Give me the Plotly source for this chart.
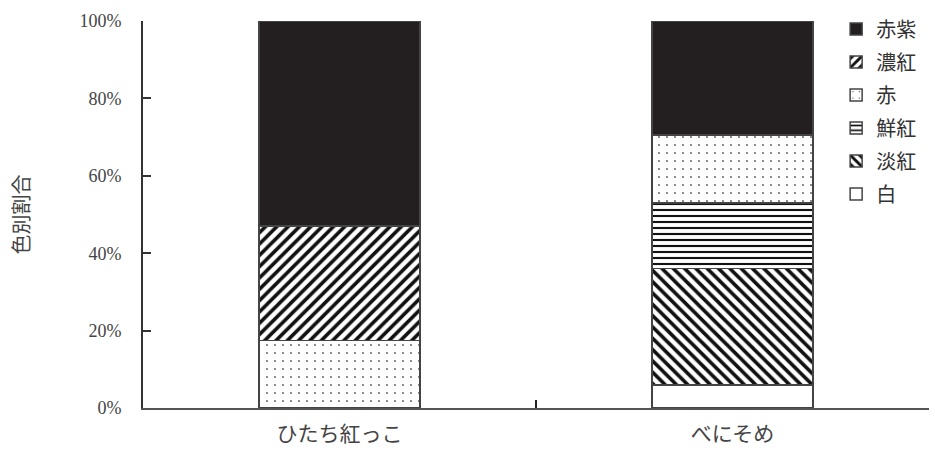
import plotly.graph_objects as go

# Cultivars on the x axis
cultivars = ["ひたち紅っこ", "べにそめ"]

# Share of each flower colour class (%), stacked from bottom to top
color_classes = ["白", "淡紅", "鮮紅", "赤", "濃紅", "赤紫"]
share_shiro = [None, 6.0]
share_tanko = [None, 30.0]
share_senko = [None, 17.0]
share_aka = [17.5, 17.5]
share_noko = [29.5, None]
share_akamurasaki = [53.0, 29.5]

shares = [share_shiro, share_tanko, share_senko, share_aka, share_noko, share_akamurasaki]

INK = "#231f20"
fill_styles = {
    "白": dict(color="white", pattern=dict(shape="")),
    "淡紅": dict(color="white", pattern=dict(shape="\\", fgcolor="#111111", bgcolor="white",
                                           fgopacity=1, size=8, solidity=0.45)),
    "鮮紅": dict(color="white", pattern=dict(shape="-", fgcolor="#111111", bgcolor="white",
                                           fgopacity=1, size=6, solidity=0.35)),
    "赤": dict(color="white", pattern=dict(shape=".", fgcolor="#555555", bgcolor="white",
                                          fgopacity=1, size=8, solidity=0.04)),
    "濃紅": dict(color="white", pattern=dict(shape="/", fgcolor="#111111", bgcolor="white",
                                           fgopacity=1, size=8, solidity=0.45)),
    "赤紫": dict(color=INK, pattern=dict(shape="")),
}

fig = go.Figure()
n = len(color_classes)
for i, (name, vals) in enumerate(zip(color_classes, shares)):
    st = fill_styles[name]
    fig.add_trace(go.Bar(
        x=cultivars, y=vals, name=name, width=0.41, legendgroup=name,
        legendrank=n - i,
        marker=dict(color=st["color"], pattern=st["pattern"],
                    line=dict(color="#444444", width=1.5)),
    ))

fig.update_layout(
    width=935, height=456,
    barmode="stack",
    plot_bgcolor="white", paper_bgcolor="white",
    margin=dict(l=143, r=6, t=21, b=48),
    font=dict(family="Noto Sans CJK JP", color="#333333"),
    legend=dict(
        x=0.99, y=1.03, xanchor="right", yanchor="top",
        traceorder="grouped", tracegroupgap=4,
        font=dict(family="Noto Sans CJK JP", size=20, color="#333333"),
        itemwidth=30, bgcolor="rgba(0,0,0,0)",
    ),
    xaxis=dict(
        showline=True, linecolor="#555555", linewidth=1.5,
        ticks="inside", tickson="boundaries", ticklen=8, tickwidth=2, tickcolor="#222222",
        tickfont=dict(family="Noto Sans CJK JP", size=21, color="#444444"),
        ticklabelstandoff=6,
        range=[-0.5, 1.5],
    ),
    yaxis=dict(
        range=[0, 100], dtick=20, ticksuffix="%",
        showline=True, linecolor="#333333", linewidth=2,
        ticks="inside", ticklen=8, tickwidth=2, tickcolor="#333333",
        showgrid=False, zeroline=False,
        tickfont=dict(family="Liberation Serif", size=18, color="#444444"),
        ticklabelstandoff=16,
        title=dict(text="色別割合", font=dict(family="Noto Sans CJK JP", size=20, color="#444444"), standoff=44),
    ),
)

fig.write_html("out.html")
